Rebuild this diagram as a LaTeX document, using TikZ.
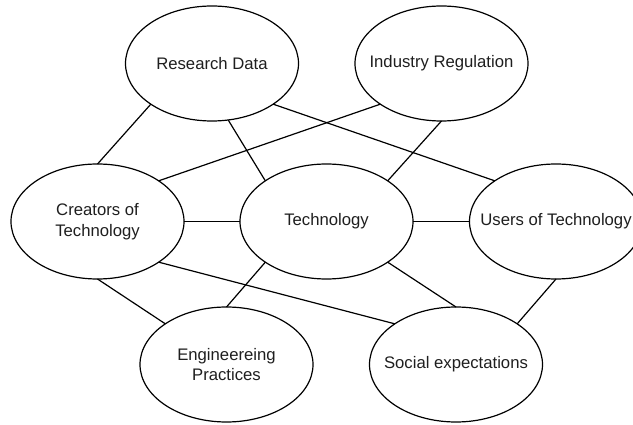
\documentclass[tikz,border=0pt]{standalone}
\usepackage{fontspec}
\setmainfont{Liberation Sans}
\usetikzlibrary{shapes.geometric}
\begin{document}
\begin{tikzpicture}[x=1pt,y=-1pt,
  blob/.style={ellipse,draw,line width=1.2pt,minimum width=173pt,minimum height=115pt,inner sep=0pt,outer sep=0pt},
  lbl/.style={font=\fontsize{16.7}{20.5}\selectfont,align=center,inner sep=0pt,text=black!88},
  link/.style={line width=1.2pt}]
\path[use as bounding box] (0,0) rectangle (633,425);
\clip (0,0) rectangle (633,425);
\fill[white] (0,0) rectangle (633,425);

% concepts
\node[blob] (rd) at (212,63.5) {};
\node[blob] (ir) at (441.5,63.5) {};
\node[blob] (cr) at (97.5,221.5) {};
\node[blob] (te) at (326.5,221.5) {};
\node[blob] (us) at (556,221.5) {};
\node[blob] (en) at (226.5,364.5) {};
\node[blob] (so) at (456,364.5) {};

\node[lbl] (rdt) at (rd) {Research Data};
\node[lbl] (irt) at (ir) {Industry Regulation};
\node[lbl] (crt) at (cr) {Creators of\\Technology};
\node[lbl] (tet) at (te) {Technology};
\node[lbl] (ust) at (us) {Users of Technology};
\node[lbl] (ent) at (en) {Engineereing\\Practices};
\node[lbl] (sot) at (so) {Social expectations};

% relations
\draw[link] (rd.south west) -- (cr.north);
\draw[link] (rd.-74) -- (te.north west);
\draw[link] (rd.south east) -- (us.north west);
\draw[link] (ir.south west) -- (cr.north east);
\draw[link] (ir.south) -- (te.north east);
\draw[link] (cr.east) -- (te.west);
\draw[link] (te.east) -- (us.west);
\draw[link] (cr.south east) -- (so.north west);
\draw[link] (cr.south) -- (en.north west);
\draw[link] (te.south west) -- (en.north);
\draw[link] (te.south east) -- (so.north);
\draw[link] (us.south) -- (so.north east);
\end{tikzpicture}
\end{document}
